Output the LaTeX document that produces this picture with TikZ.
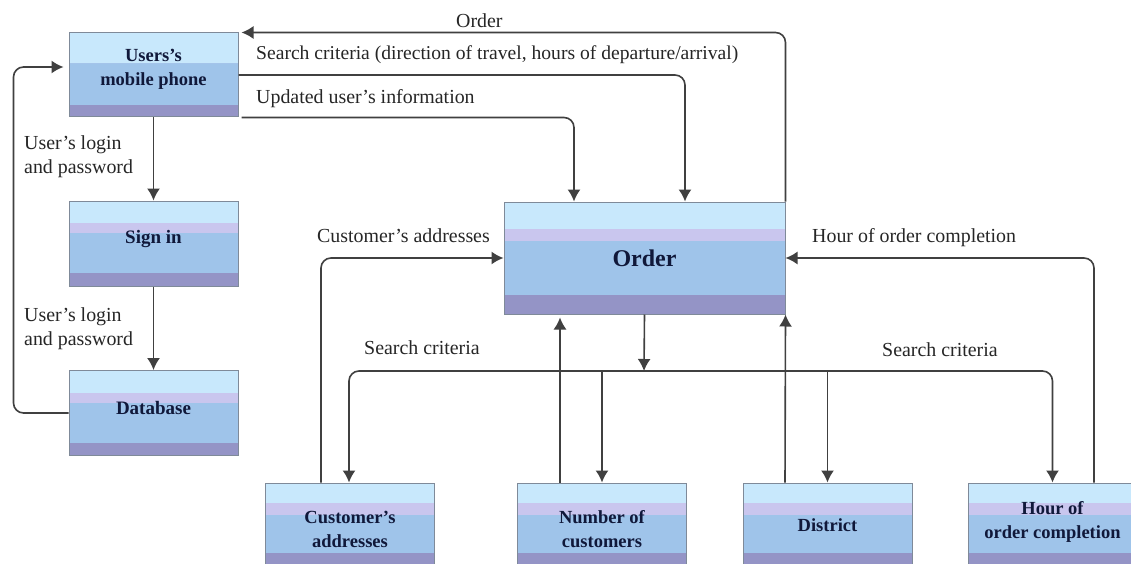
\documentclass[tikz,border=0pt]{standalone}
\usepackage{fontspec}
\setmainfont{Liberation Serif}
\usetikzlibrary{calc,arrows.meta}
\definecolor{lightb}{HTML}{C8E8FC}
\definecolor{purp}{HTML}{C9C6EE}
\definecolor{midb}{HTML}{9FC4EA}
\definecolor{darkb}{HTML}{9494C6}
\definecolor{edgec}{HTML}{7F8A99}
\definecolor{linec}{HTML}{404040}
\definecolor{textb}{HTML}{10183A}
\newcommand{\ppb}{path picture bounding box}
% raises a node's text by half of #1 pt: extra depth under the last line
\newcommand{\upby}[1]{\rule[-#1pt]{0pt}{#1pt}}
\tikzset{
  x=1pt,y=-1pt,
  bands/.code n args={3}{\def\fa{#1}\def\fb{#2}\def\fc{#3}},
  layered/.style={draw=edgec,line width=1pt,inner sep=0pt,align=center,
    font=\fontsize{#1}{24}\selectfont\bfseries,text=textb,
    path picture={
      \fill[midb] (\ppb.south west) rectangle (\ppb.north east);
      \fill[lightb] (\ppb.north west) rectangle ($(\ppb.north east)!\fa!(\ppb.south east)$);
      \fill[purp] ($(\ppb.north west)!\fa!(\ppb.south west)$) rectangle ($(\ppb.north east)!\fb!(\ppb.south east)$);
      \fill[darkb] ($(\ppb.north west)!\fc!(\ppb.south west)$) rectangle (\ppb.south east);
    }},
  sidebox/.style={layered=19,minimum width=169pt,minimum height=85pt,bands={0.26}{0.38}{0.85}},
  phonebox/.style={layered=18.5,minimum width=169pt,minimum height=84pt,bands={0.36}{0.36}{0.855}},
  bottombox/.style={layered=18.5,minimum width=169pt,minimum height=92pt,bands={0.22}{0.35}{0.76}},
  conn/.style={draw=linec,line width=1.6pt,rounded corners=10pt,-{Latex[length=12pt,width=13pt]}},
  lab/.style={font=\fontsize{19.9}{24}\selectfont,text=black!85,inner sep=0pt,anchor=west,align=left}
}
\begin{document}
\begin{tikzpicture}
\useasboundingbox (0,0) rectangle (1131,564);
\fill[white] (0,0) rectangle (1131,564);
% boxes
\node[phonebox] (phone) at (153.5,75) {Users's\\mobile phone\upby{16}};
\node[sidebox] (signin) at (153.5,243.5) {Sign in\upby{14}};
\node[sidebox] (db) at (153.5,413) {Database\upby{10}};
\node[layered=24,minimum width=281pt,minimum height=112pt,bands={0.24}{0.35}{0.83}] (order) at (644.5,258) {Order};
\node[bottombox] (cust) at (350,529) {Customer's\\addresses};
\node[bottombox] (num) at (602,529) {Number of\\customers};
\node[bottombox] (dist) at (827.5,529) {District\upby{8}};
\node[bottombox] (hour) at (1052.5,529) {Hour of\\order completion\upby{18}};
\coordinate (bus) at (644,371);
% connectors
\draw[conn] (order.north east) |- ($(phone.north east)+(3,0)$);
\draw[conn] (phone.east) -| ($(order.north)+(40.5,0)$);
\draw[conn] ($(phone.south east)+(3,0)$) -| ($(order.north)+(-70.5,0)$);
\draw[conn] (phone) -- (signin);
\draw[conn] (signin) -- (db);
\draw[conn] (db.west) -- ++(-55,0) |- ($(phone.west)+(-5,-8)$);
\draw[conn] ($(cust.north)+(-29,0)$) |- (order.west);
\draw[conn] ($(hour.north)+(41.5,0)$) |- (order.east);
\draw[conn] ($(num.north)+(-42,0)$) -- ($(order.south)+(-84.5,3)$);
\draw[conn] ($(dist.north)+(-42.5,0)$) -- (order.south east);
\draw[conn] (order.south) -- (bus);
\draw[conn] (bus) -| ($(cust.north)+(-1,0)$);
\draw[conn] (bus) -| (hour.north);
\draw[conn] (num.north |- bus) -- (num.north);
\draw[conn] (dist.north |- bus) -- (dist.north);
% labels
\node[lab] (l1) at (456,21) {Order};
\node[lab,font=\fontsize{19.6}{24}\selectfont] (l2) at (256,55) {Search criteria (direction of travel, hours of departure/arrival)};
\node[lab] (l3) at (256,99) {Updated user's information};
\node[lab] (l4) at (24,157) {User's login\\and password};
\node[lab] (l5) at (24,329) {User's login\\and password};
\node[lab] (l6) at (317,236) {Customer's addresses};
\node[lab] (l7) at (812,238) {Hour of order completion};
\node[lab] (l8) at (364,348) {Search criteria};
\node[lab] (l9) at (882,350) {Search criteria};
\end{tikzpicture}
\end{document}
